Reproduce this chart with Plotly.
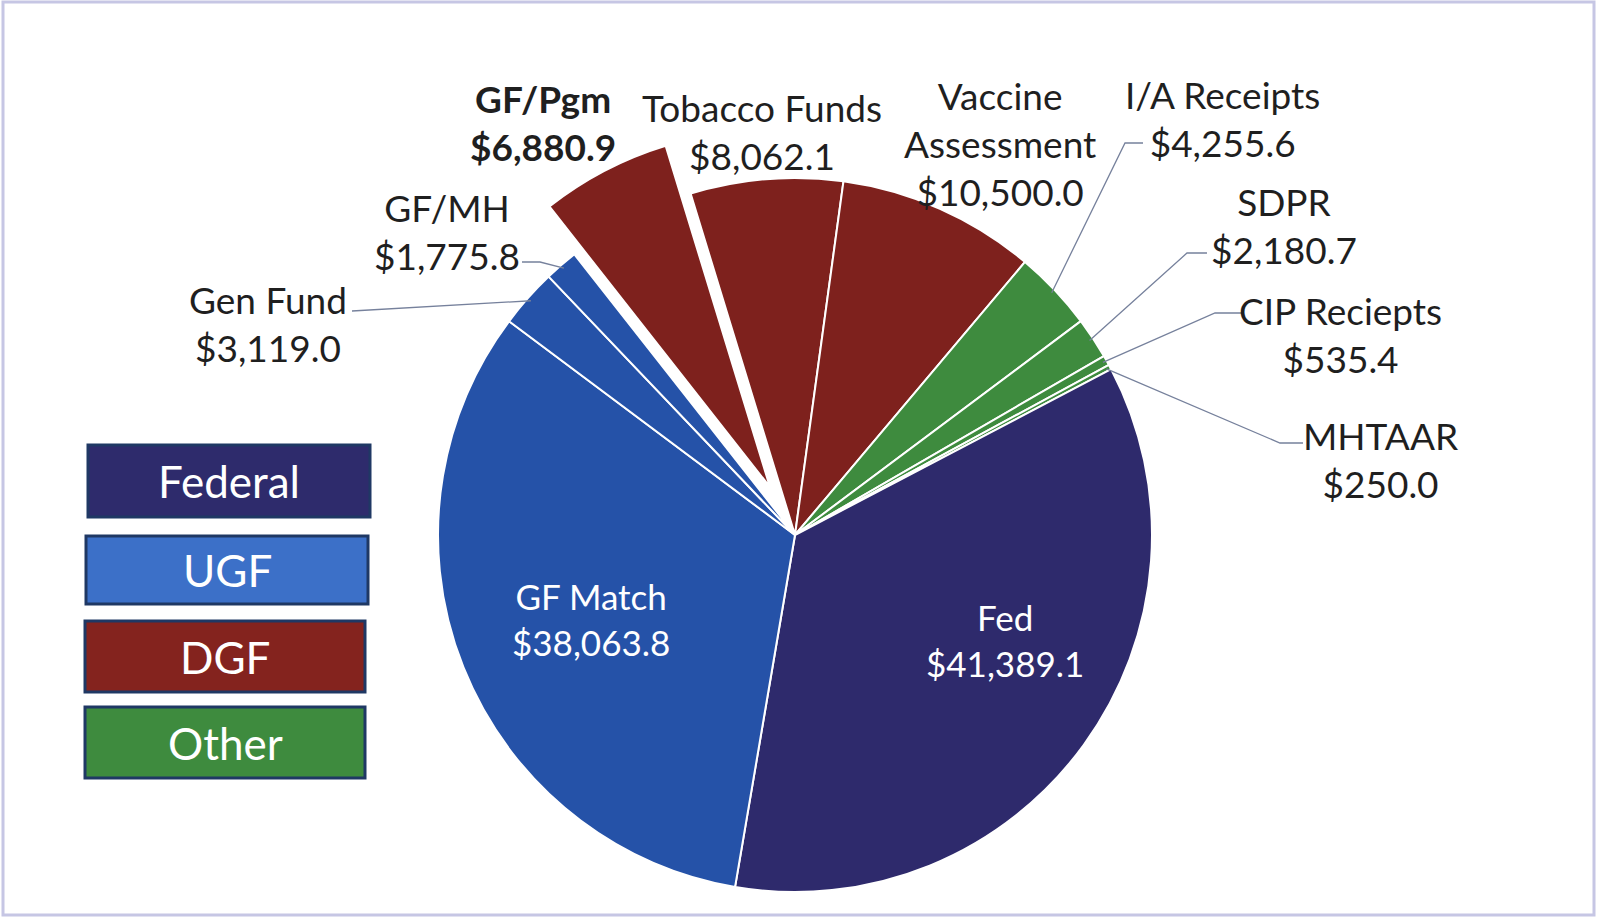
import math
import plotly.graph_objects as go

# slice data, clockwise from the top
labels = ['Tobacco Funds', 'Vaccine Assessment', 'I/A Receipts', 'SDPR', 'CIP Reciepts',
          'MHTAAR', 'Fed', 'GF Match', 'Gen Fund', 'GF/MH', 'GF/Pgm']
values = [8062.1, 10500.0, 4255.6, 2180.7, 535.4, 250.0, 41389.1, 38063.8, 3119.0, 1775.8, 6880.9]
groups = ['DGF', 'DGF', 'Other', 'Other', 'Other', 'Other', 'Federal', 'UGF', 'UGF', 'UGF', 'DGF']
legend_names = ['Federal', 'UGF', 'DGF', 'Other']
pulled = 'GF/Pgm'

pie_colors = {'Federal': '#2E2A6C', 'UGF': '#2552A8', 'DGF': '#7E211D', 'Other': '#3E8B3E'}
box_colors = {'Federal': '#2E2B6C', 'UGF': '#3C70C8', 'DGF': '#84231E', 'Other': '#3E8B3E'}

W, H = 1597, 918
CX, CY, R = 795, 535, 357
PULL = 54
ROT = -17
FONT = "Lato, 'Open Sans', sans-serif"


def px(x):
    return x / W


def py(y):
    return 1 - y / H


def domain(cx, cy):
    return dict(x=[px(cx - R), px(cx + R)], y=[py(cy + R), py(cy - R)])


# mid angle of every slice (degrees clockwise from 12 o'clock)
total = sum(values)
mid = {}
acc = ROT
for lab, v in zip(labels, values):
    span = v / total * 360
    mid[lab] = acc + span / 2
    acc += span


def edge(lab, r=R, cx=CX, cy=CY):
    a = math.radians(mid[lab])
    return cx + r * math.sin(a), cy - r * math.cos(a)


colors = [pie_colors[g] for g in groups]
main_colors = ['rgba(0,0,0,0)' if l == pulled else c for l, c in zip(labels, colors)]
main_lw = [0 if l == pulled else 2 for l in labels]
pull_colors = [c if l == pulled else 'rgba(0,0,0,0)' for l, c in zip(labels, colors)]
pull_lw = [2 if l == pulled else 0 for l in labels]

a = math.radians(mid[pulled])
pcx, pcy = CX + PULL * math.sin(a), CY - PULL * math.cos(a)

fig = go.Figure()
fig.add_trace(go.Pie(labels=labels, values=values, sort=False, direction='clockwise',
                     rotation=ROT, textinfo='none', hoverinfo='label+value',
                     marker=dict(colors=main_colors, line=dict(color='white', width=main_lw)),
                     domain=domain(CX, CY)))
fig.add_trace(go.Pie(labels=labels, values=values, sort=False, direction='clockwise',
                     rotation=ROT, textinfo='none', hoverinfo='label+value',
                     marker=dict(colors=pull_colors, line=dict(color='white', width=pull_lw)),
                     domain=domain(pcx, pcy)))

# label layout: text block centre in pixels
display = {'Vaccine Assessment': 'Vaccine<br>Assessment'}
label_pos = {
    'Tobacco Funds': (762, 132), 'Vaccine Assessment': (1000, 143), 'I/A Receipts': (1222, 118),
    'SDPR': (1284, 225), 'CIP Reciepts': (1340, 335), 'MHTAAR': (1380, 460),
    'Fed': (1005, 640), 'GF Match': (591, 619), 'Gen Fund': (268, 323),
    'GF/MH': (447, 231), 'GF/Pgm': (543, 122),
}
inside = ['Fed', 'GF Match']
leader = {
    'Gen Fund': [(352, 311)],
    'GF/MH': [(522, 262), (540, 262)],
    'I/A Receipts': [(1143, 143), (1125, 143)],
    'SDPR': [(1207, 253), (1187, 253)],
    'CIP Reciepts': [(1243, 313), (1215, 313)],
    'MHTAAR': [(1303, 443), (1280, 443)],
}

annotations = []
shapes = []
for lab, v in zip(labels, values):
    name = display.get(lab, lab)
    txt = f"{name}<br>${v:,.1f}"
    if lab == pulled:
        txt = f"<b>{txt}</b>"
    x, y = label_pos[lab]
    annotations.append(dict(x=px(x), y=py(y), xref='paper', yref='paper', text=txt,
                            showarrow=False, xanchor='center', yanchor='middle', align='center',
                            font=dict(family=FONT, size=35 if lab in inside else 37,
                                      color='white' if lab in inside else '#1f1f1f')))
    if lab in leader:
        pts = leader[lab] + [edge(lab, R - 4)]
        path = 'M ' + ' L '.join(f"{px(x0):.5f},{py(y0):.5f}" for x0, y0 in pts)
        shapes.append(dict(type='path', path=path, xref='paper', yref='paper',
                           line=dict(color='#76819c', width=1.3)))

# hand-drawn legend boxes
boxes = [(88, 445, 370, 517), (86, 536, 368, 604), (85, 621, 365, 692), (85, 707, 365, 778)]
for name, (x0, y0, x1, y1) in zip(legend_names, boxes):
    shapes.append(dict(type='rect', xref='paper', yref='paper', x0=px(x0), x1=px(x1),
                       y0=py(y1), y1=py(y0), fillcolor=box_colors[name],
                       line=dict(color='#1F3864', width=3)))
    annotations.append(dict(x=px((x0 + x1) / 2), y=py((y0 + y1) / 2), xref='paper', yref='paper',
                            text=name, showarrow=False, xanchor='center', yanchor='middle',
                            font=dict(family=FONT, size=44, color='white')))

# outer frame
shapes.append(dict(type='rect', xref='paper', yref='paper', x0=px(3), x1=px(1594),
                   y0=py(915), y1=py(2), line=dict(color='#C6C6E4', width=3)))

fig.update_layout(width=W, height=H, margin=dict(l=0, r=0, t=0, b=0),
                  paper_bgcolor='white', plot_bgcolor='white', showlegend=False,
                  shapes=shapes, annotations=annotations)

# drop the default page margin so the figure sits at the window origin
fig.write_html("out.html", config={'displayModeBar': False},
               post_script="document.body.style.margin='0px';")
